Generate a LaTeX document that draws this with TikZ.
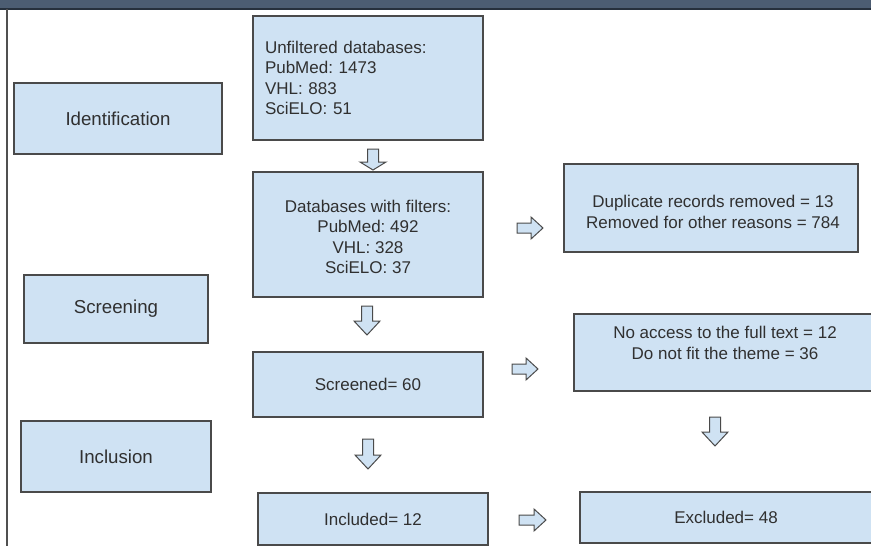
\documentclass[tikz,border=0pt]{standalone}
\usepackage{fontspec}
\setmainfont{Liberation Sans}
\frenchspacing
\definecolor{boxfill}{HTML}{CFE2F3}
\definecolor{boxline}{HTML}{4A4A4A}
\definecolor{txt}{HTML}{303030}
\definecolor{barfill}{HTML}{4C5D72}
\definecolor{bardark}{HTML}{26303C}
\definecolor{sideline}{HTML}{505050}
\newcommand{\blockdown}[4]{% x, top y, length, head length
  \filldraw[blk] (#1-5.5,#2) -- (#1+5.5,#2) -- (#1+5.5,#2+#3-#4) -- (#1+13,#2+#3-#4)
    -- (#1,#2+#3) -- (#1-13,#2+#3-#4) -- (#1-5.5,#2+#3-#4) -- cycle;}
\newcommand{\blockright}[3]{% left x, center y, length
  \filldraw[blk] (#1,#2-5) -- (#1+#3-12,#2-5) -- (#1+#3-12,#2-11) -- (#1+#3,#2)
    -- (#1+#3-12,#2+11) -- (#1+#3-12,#2+5) -- (#1,#2+5) -- cycle;}
\begin{document}
\begin{tikzpicture}[x=1pt,y=-1pt,
  flowbox/.style={draw=boxline, fill=boxfill, line width=1.1pt, text=txt,
    font=\fontsize{17}{20.5}\selectfont, inner sep=0pt, align=center},
  stagebox/.style={flowbox, font=\fontsize{18.7}{22}\selectfont},
  plaintext/.style={text=txt, font=\fontsize{17}{20.5}\selectfont, inner sep=0pt, align=center},
  blk/.style={draw=boxline, fill=boxfill, line width=1pt, line join=miter}]
\useasboundingbox (0,0) rectangle (871,546);
\clip (0,0) rectangle (871,546);
\fill[white] (0,0) rectangle (871,546);
% top bar and side line
\fill[barfill] (0,0) rectangle (871,8);
\fill[bardark] (0,7.5) rectangle (871,9.5);
\draw[line width=1.8pt, draw=sideline] (7,9) -- (7,546);
% stage boxes
\node[stagebox, minimum width=208, minimum height=71] (ident) at (118,118.5) {Identification};
\node[stagebox, minimum width=184, minimum height=68] (screen) at (116,309) {Screening};
\node[stagebox, minimum width=190, minimum height=71] (incl) at (116,456.5) {Inclusion};
% main column
\node[flowbox, text width=206, inner xsep=12, minimum height=124, align=left] (unf) at (368,78)
  {Unfiltered databases:\\PubMed: 1473\\VHL: 883\\SciELO: 51};
\node[flowbox, minimum width=230, minimum height=125] (dbf) at (368,234.5) {};
\node[plaintext] (dbftxt) at (368,237) {Databases with filters:\\PubMed: 492\\VHL: 328\\SciELO: 37};
\node[flowbox, minimum width=230, minimum height=65] (scr) at (368,384.5) {Screened= 60};
\node[flowbox, minimum width=230, minimum height=52] (inc) at (373,519) {Included= 12};
% right column
\node[flowbox, minimum width=294, minimum height=88] (dup) at (711,208) {};
\node[plaintext] (duptxt) at (713,212) {Duplicate records removed = 13\\Removed for other reasons = 784};
\node[flowbox, minimum width=300, minimum height=77] (noacc) at (724,352.5) {};
\node[plaintext] (noacctxt) at (725,343) {No access to the full text = 12\\Do not fit the theme = 36};
\node[flowbox, minimum width=294, minimum height=51] (exc) at (727,517.5) {};
\node[plaintext] (exctxt) at (726,517.5) {Excluded= 48};
% block arrows
\blockdown{373}{149}{21}{8}
\blockdown{367}{306}{29}{14}
\blockdown{368}{439}{30}{14}
\blockdown{715}{417}{29}{14}
\blockright{517}{228}{26}
\blockright{512}{369}{26}
\blockright{519}{520}{27}
\end{tikzpicture}
\end{document}
